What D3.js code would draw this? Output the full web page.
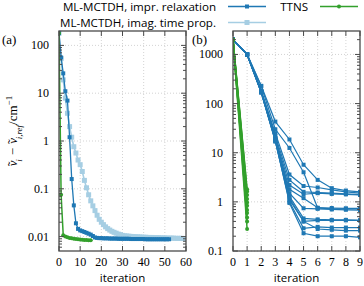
<!DOCTYPE html>
<html>
<head>
<meta charset="utf-8">
<script src="https://cdn.jsdelivr.net/npm/d3@7"></script>
<style>
  body { margin: 0; background: #fff; }
  svg { display: block; }
  .num { font-family: "Liberation Serif", "DejaVu Serif", serif; font-size: 12px; fill: #000; }
  .sans { font-family: "Open Sans", sans-serif; font-size: 12px; fill: #000; }
  .grid { stroke: #c8c8c8; stroke-width: 0.8; stroke-dasharray: 1,2; }
  .frame { fill: none; stroke: #4a4a4a; stroke-width: 1.3; }
  .tick { stroke: #4a4a4a; stroke-width: 1; }
</style>
</head>
<body>
<div id="chart"></div>
<script>
const WIDTH = 364, HEIGHT = 286;
const colors = { relax: "#1f78b4", imag: "#a6cee3", ttns: "#33a02c" };

// panel (a): one state, error per iteration (iteration = index)
const relaxA = [180, 56, 26, 11, 7.0, 1.2, 0.16, 0.045, 0.019, 0.0145,
  0.0135, 0.013, 0.0125, 0.012, 0.0115, 0.011, 0.0103, 0.0096, 0.0094, 0.0093,
  0.0093, 0.0092, 0.0092, 0.0092, 0.0091, 0.0091, 0.0091, 0.0091, 0.009, 0.009,
  0.009, 0.009, 0.009, 0.009, 0.0089, 0.0089, 0.0089, 0.0089, 0.0089, 0.0089,
  0.0089, 0.0088, 0.0088, 0.0088, 0.0088, 0.0088, 0.0088, 0.0088, 0.0088, 0.0088,
  0.0088, 0.0088, 0.0088];
const imagA = [180, 53, 19, 7.9, 3.8, 2.0, 1.2, 0.76, 0.56, 0.40,
  0.32, 0.23, 0.15, 0.105, 0.075, 0.056, 0.044, 0.035, 0.028, 0.023,
  0.020, 0.0178, 0.016, 0.0147, 0.0137, 0.0129, 0.0123, 0.0118, 0.0113, 0.011,
  0.0106, 0.0104, 0.0103, 0.0102, 0.0101, 0.0100, 0.0099, 0.0099, 0.0098, 0.0098,
  0.0097, 0.0097, 0.0096, 0.0096, 0.0096, 0.0095, 0.0095, 0.0095, 0.0094, 0.0094,
  0.0094, 0.0093, 0.0093, 0.0093, 0.0093, 0.0092, 0.0092, 0.0092, 0.0092, 0.0091,
  0.0091];
const ttnsA = [180, 0.075, 0.0107, 0.0101, 0.0097, 0.0094, 0.0092, 0.009, 0.0089, 0.0088,
  0.0087, 0.0086, 0.0085, 0.0085, 0.0084, 0.0084];

// panel (b): several states, iterations 0..9
const relaxB = [
  [2000, 1000, 230, 43, 18.6, 5.7, 2.8, 1.9, 1.7, 1.6],
  [2000, 1000, 225, 30, 12.5, 4.0, 0.75, 0.72, 0.72, 0.72],
  [2000, 1000, 180, 25, 3.6, 2.1, 1.96, 1.75, 1.6, 1.5],
  [2000, 1000, 180, 22, 2.8, 1.6, 1.55, 1.5, 1.45, 1.4],
  [2000, 1000, 170, 20, 2.2, 1.43, 1.5, 1.45, 1.42, 1.38],
  [2000, 1000, 170, 18, 1.8, 1.19, 0.76, 0.75, 0.74, 0.74],
  [2000, 1000, 175, 20, 1.5, 0.74, 0.72, 0.7, 0.69, 0.68],
  [2000, 1000, 175, 19, 1.3, 0.46, 0.44, 0.43, 0.43, 0.42],
  [2000, 1000, 170, 17, 1.1, 0.40, 0.42, 0.42, 0.42, 0.42],
  [2000, 1000, 170, 17, 1.0, 0.29, 0.31, 0.30, 0.30, 0.30],
  [2000, 1000, 175, 18, 0.95, 0.23, 0.20, 0.20, 0.20, 0.19],
  [2000, 1000, 170, 18, 1.2, 0.40, 0.28, 0.27, 0.26, 0.26]
];
const ttnsB = [
  [2000, 1.8], [2000, 1.63], [2000, 1.38], [2000, 1.14], [2000, 0.97], [2000, 0.83],
  [2000, 0.68], [2000, 0.59], [2000, 0.48], [2000, 0.40], [2000, 0.28]
];

const xTicksA = [0, 10, 20, 30, 40, 50, 60];
const xTicksB = [0, 1, 2, 3, 4, 5, 6, 7, 8, 9];
const yTicksA = [0.01, 0.1, 1, 10, 100];
const yTicksB = [0.1, 1, 10, 100, 1000];
const yLabel = v => String(v);

const svg = d3.select("#chart").append("svg")
  .attr("width", WIDTH)
  .attr("height", HEIGHT);

function minorTicks(domain) {
  const out = [];
  const lo = Math.floor(Math.log10(domain[0])), hi = Math.ceil(Math.log10(domain[1]));
  for (let e = lo; e < hi; e++) {
    for (let m = 2; m <= 9; m++) {
      const v = m * Math.pow(10, e);
      if (v > domain[0] && v < domain[1]) out.push(v);
    }
  }
  return out;
}

function drawPanel(p) {
  const x = d3.scaleLinear().domain(p.xDomain).range([p.left, p.right]);
  const y = d3.scaleLog().domain(p.yDomain).range([p.bottom, p.top]);
  const g = svg.append("g");

  // grid
  g.selectAll(".gx").data(p.xTicks.slice(1, -1)).join("line")
    .attr("class", "grid")
    .attr("x1", d => x(d)).attr("x2", d => x(d))
    .attr("y1", p.top).attr("y2", p.bottom);
  g.selectAll(".gy").data(p.yTicks).join("line")
    .attr("class", "grid")
    .attr("x1", p.left).attr("x2", p.right)
    .attr("y1", d => y(d)).attr("y2", d => y(d));

  const clipId = "clip-" + p.name;
  svg.append("clipPath").attr("id", clipId)
    .append("rect")
    .attr("x", p.left).attr("y", p.top - 3)
    .attr("width", p.right - p.left).attr("height", p.bottom - p.top + 3);

  const plot = g.append("g").attr("clip-path", `url(#${clipId})`);
  const line = d3.line().x((d, i) => x(i)).y(d => y(d));

  p.series.forEach(s => {
    s.data.forEach(values => {
      const sg = plot.append("g");
      sg.append("path")
        .attr("d", line(values))
        .attr("fill", "none")
        .attr("stroke", s.color)
        .attr("stroke-width", s.width);
      if (s.shape === "square") {
        sg.selectAll("rect").data(values).join("rect")
          .attr("x", (d, i) => x(i) - s.size / 2)
          .attr("y", d => y(d) - s.size / 2)
          .attr("width", s.size).attr("height", s.size)
          .attr("fill", s.color);
      } else {
        sg.selectAll("circle").data(values).join("circle")
          .attr("cx", (d, i) => x(i))
          .attr("cy", d => y(d))
          .attr("r", s.size / 2)
          .attr("fill", s.color);
      }
    });
  });

  // ticks (all four sides, inward)
  const major = 5, minor = 3;
  p.xTicks.forEach(t => {
    g.append("line").attr("class", "tick")
      .attr("x1", x(t)).attr("x2", x(t)).attr("y1", p.bottom).attr("y2", p.bottom - major);
    g.append("line").attr("class", "tick")
      .attr("x1", x(t)).attr("x2", x(t)).attr("y1", p.top).attr("y2", p.top + major);
  });
  p.yTicks.forEach(t => {
    g.append("line").attr("class", "tick")
      .attr("x1", p.left).attr("x2", p.left + major).attr("y1", y(t)).attr("y2", y(t));
    g.append("line").attr("class", "tick")
      .attr("x1", p.right).attr("x2", p.right - major).attr("y1", y(t)).attr("y2", y(t));
  });
  minorTicks(p.yDomain).forEach(t => {
    g.append("line").attr("class", "tick")
      .attr("x1", p.left).attr("x2", p.left + minor).attr("y1", y(t)).attr("y2", y(t));
    g.append("line").attr("class", "tick")
      .attr("x1", p.right).attr("x2", p.right - minor).attr("y1", y(t)).attr("y2", y(t));
  });

  g.append("rect").attr("class", "frame")
    .attr("x", p.left).attr("y", p.top)
    .attr("width", p.right - p.left).attr("height", p.bottom - p.top);

  // tick labels
  g.selectAll(".xl").data(p.xTicks).join("text")
    .attr("class", "num")
    .attr("x", d => x(d)).attr("y", p.bottom + 15)
    .attr("text-anchor", "middle")
    .text(d => d);
  g.selectAll(".yl").data(p.yTicks).join("text")
    .attr("class", "num")
    .attr("x", p.left - 10).attr("y", d => y(d) + 4)
    .attr("text-anchor", "end")
    .text(yLabel);

  g.append("text").attr("class", "sans")
    .attr("x", (p.left + p.right) / 2).attr("y", p.bottom + 31)
    .attr("text-anchor", "middle")
    .style("font-size", "11.5px")
    .text("iteration");

  g.append("text").attr("class", "num")
    .attr("x", p.tagX).attr("y", p.top + 13)
    .style("font-size", "13px")
    .text(p.tag);
}

drawPanel({
  name: "a", tag: "(a)", tagX: 2,
  left: 59, right: 186, top: 31, bottom: 251,
  xDomain: [0, 60], yDomain: [0.005, 200],
  xTicks: xTicksA, yTicks: yTicksA,
  series: [
    { data: [imagA], color: colors.imag, width: 1.6, shape: "square", size: 5 },
    { data: [relaxA], color: colors.relax, width: 1.3, shape: "square", size: 4 },
    { data: [ttnsA], color: colors.ttns, width: 1.5, shape: "circle", size: 4 }
  ]
});

drawPanel({
  name: "b", tag: "(b)", tagX: 192,
  left: 233, right: 360, top: 31, bottom: 251,
  xDomain: [0, 9], yDomain: [0.1, 3000],
  xTicks: xTicksB, yTicks: yTicksB,
  series: [
    { data: relaxB, color: colors.relax, width: 1.2, shape: "square", size: 4 },
    { data: ttnsB, color: colors.ttns, width: 1.5, shape: "circle", size: 4 }
  ]
});

// y-axis title: nu with a tilde set over it
const yt = svg.append("text")
  .attr("transform", "translate(17,131) rotate(-90)")
  .attr("text-anchor", "middle")
  .attr("class", "num")
  .style("font-size", "13px")
  .style("font-style", "italic");
function nuTilde(sel) {
  sel.append("tspan").text("\u03BD");
  sel.append("tspan").attr("dx", -5.6).style("font-style", "normal").text("\u02DC");
  sel.append("tspan").attr("dx", 1.0).text("");
}
nuTilde(yt);
yt.append("tspan").attr("baseline-shift", "sub").style("font-size", "9px").text("i");
yt.append("tspan").text(" \u2212 ");
nuTilde(yt);
yt.append("tspan").attr("baseline-shift", "sub").style("font-size", "9px").text("i,ref");
yt.append("tspan").style("font-style", "normal").text("/cm");
yt.append("tspan").attr("baseline-shift", "super").style("font-size", "9px").style("font-style", "normal").text("\u22121");

// legend
const legendRows = [
  { label: "ML-MCTDH, impr. relaxation", color: colors.relax, x: 228, y: 6.5, shape: "square", size: 4, width: 1.3 },
  { label: "ML-MCTDH, imag. time prop.", color: colors.imag, x: 228, y: 22.5, shape: "square", size: 5, width: 1.6 },
  { label: "TTNS", color: colors.ttns, x: 320, y: 6.5, shape: "circle", size: 4, width: 1.5 }
];
const legend = svg.append("g");
legendRows.forEach(r => {
  const lg = legend.append("g");
  lg.append("text").attr("class", "sans")
    .attr("x", r.x - 12).attr("y", r.y + 4.2)
    .attr("text-anchor", "end")
    .style("font-size", "11.6px")
    .text(r.label);
  lg.append("line")
    .attr("x1", r.x).attr("x2", r.x + 38)
    .attr("y1", r.y).attr("y2", r.y)
    .attr("stroke", r.color).attr("stroke-width", r.width);
  if (r.shape === "square") {
    lg.append("rect")
      .attr("x", r.x + 19 - r.size / 2).attr("y", r.y - r.size / 2)
      .attr("width", r.size).attr("height", r.size)
      .attr("fill", r.color);
  } else {
    lg.append("circle")
      .attr("cx", r.x + 19).attr("cy", r.y).attr("r", r.size / 2)
      .attr("fill", r.color);
  }
});
</script>
</body>
</html>
